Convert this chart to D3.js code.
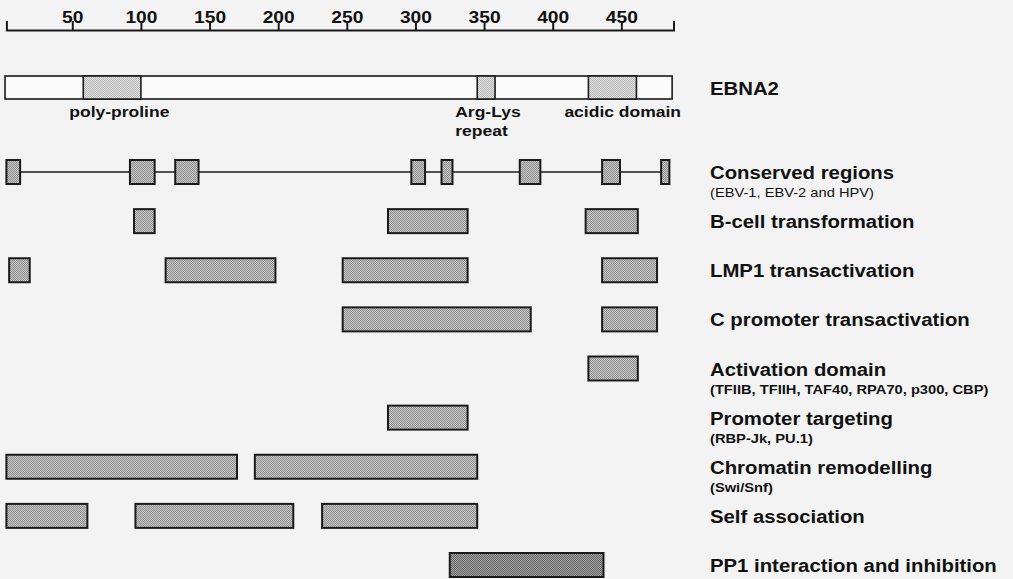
<!DOCTYPE html>
<html>
<head>
<meta charset="utf-8">
<script src="https://cdn.jsdelivr.net/npm/d3@7"></script>
<style>
body { margin: 0; background: #f3f3f3; }
svg { display: block; font-family: "Liberation Sans", Arial, sans-serif; }
.axis path, .axis line { stroke: #1a1a1a; stroke-width: 2; }
.axis text { font-family: "Liberation Sans", Arial, sans-serif; font-size: 17px; font-weight: bold; fill: #111; }
.seg { stroke: #1a1a1a; stroke-width: 2; }
.label { font-size: 18px; font-weight: bold; fill: #111; }
.note { font-size: 13px; fill: #111; }
.feature { font-size: 15.5px; font-weight: bold; fill: #111; }
</style>
</head>
<body>
<svg class="domains" width="1013" height="579"></svg>
<script>
// amino acid positions along EBNA2
var axisStart = 2, axisEnd = 488;
var tickValues = [50, 100, 150, 200, 250, 300, 350, 400, 450];

var ebna2Span = [1, 487];
var ebna2Features = [["poly-proline"], ["Arg-Lys", "repeat"], ["acidic domain"]];
var ebna2FeatureSpans = [[58, 100], [345, 358], [426, 461]];

var trackNames = ["Conserved regions", "B-cell transformation", "LMP1 transactivation",
    "C promoter transactivation", "Activation domain", "Promoter targeting",
    "Chromatin remodelling", "Self association", "PP1 interaction and inhibition"];
var trackNotes = ["(EBV-1, EBV-2 and HPV)", "", "", "", "(TFIIB, TFIIH, TAF40, RPA70, p300, CBP)",
    "(RBP-Jk, PU.1)", "(Swi/Snf)", "", ""];

var conservedRegions = [[2, 12], [92, 110], [125, 142], [297, 307], [319, 327], [376, 391], [436, 449], [479, 485]];
var bCellTransformation = [[95, 110], [280, 338], [424, 462]];
var lmp1Transactivation = [[4, 19], [118, 198], [247, 338], [436, 476]];
var cPromoterTransactivation = [[247, 384], [436, 476]];
var activationDomain = [[426, 462]];
var promoterTargeting = [[280, 338]];
var chromatinRemodelling = [[2, 170], [183, 345]];
var selfAssociation = [[2, 61], [96, 211], [232, 345]];
var pp1Interaction = [[325, 437]];

var trackSpans = [conservedRegions, bCellTransformation, lmp1Transactivation, cPromoterTransactivation,
    activationDomain, promoterTargeting, chromatinRemodelling, selfAssociation, pp1Interaction];

function drawDomainMap() {
    var svg = d3.select(".domains");
    var stretch = "scale(1.13,1)";   // the scan is a little wide
    var barH = 24, ebna2Y = 87.5, labelX = 710;
    var featureLabelDx = [-14, -22, -24];

    var x = d3.scaleLinear()
        .domain([axisStart, axisEnd])
        .range([6.4, 673.5]);

    var y = d3.scalePoint()
        .domain(trackNames)
        .range([172, 565]);

    // halftone fills
    var defs = svg.append("defs");
    function dotPattern(id, base, dot) {
        var p = defs.append("pattern")
            .attr("id", id)
            .attr("width", 2)
            .attr("height", 2)
            .attr("patternUnits", "userSpaceOnUse");
        p.append("rect").attr("width", 2).attr("height", 2).attr("fill", base);
        p.append("rect").attr("width", 1).attr("height", 1).attr("fill", dot);
        p.append("rect").attr("x", 1).attr("y", 1).attr("width", 1).attr("height", 1).attr("fill", dot);
    }
    dotPattern("dots", "#c4c4c4", "#919191");
    dotPattern("dotsLight", "#dddddd", "#bcbcbc");
    dotPattern("dotsDark", "#a0a0a0", "#666666");

    // axis
    var axis = svg.append("g")
        .attr("class", "axis")
        .attr("transform", "translate(0,30)")
        .call(d3.axisTop(x)
            .tickValues(tickValues)
            .tickSizeInner(9)
            .tickSizeOuter(9)
            .tickPadding(-2)
            .tickFormat(d3.format("d")));
    axis.selectAll("text").attr("transform", stretch);

    // EBNA2 protein
    svg.append("rect")
        .attr("x", x(ebna2Span[0]))
        .attr("y", ebna2Y - 11.5)
        .attr("width", x(ebna2Span[1]) - x(ebna2Span[0]))
        .attr("height", 23)
        .attr("fill", "#fbfbfb")
        .attr("stroke", "#1a1a1a")
        .attr("stroke-width", 1.6);

    svg.selectAll(".feat")
        .data(ebna2FeatureSpans)
        .enter().append("rect")
            .attr("class", "feat")
            .attr("x", function(d) { return x(d[0]); })
            .attr("y", ebna2Y - 11.5)
            .attr("width", function(d) { return x(d[1]) - x(d[0]); })
            .attr("height", 23)
            .attr("fill", "url(#dotsLight)")
            .attr("stroke", "#1a1a1a")
            .attr("stroke-width", 1.6);

    var featLabels = svg.selectAll(".feature")
        .data(ebna2Features)
        .enter().append("text")
            .attr("class", "feature")
            .attr("transform", function(d, i) {
                return "translate(" + (x(ebna2FeatureSpans[i][0]) + featureLabelDx[i]) + ",117) " + stretch;
            });
    featLabels.selectAll("tspan")
        .data(function(d) { return d; })
        .enter().append("tspan")
            .attr("x", 0)
            .attr("dy", function(d, i) { return i ? 19 : 0; })
            .text(function(d) { return d; });

    // line joining the conserved regions
    svg.append("line")
        .attr("x1", x(conservedRegions[0][1]))
        .attr("x2", x(conservedRegions[conservedRegions.length - 1][0]))
        .attr("y1", y(trackNames[0]))
        .attr("y2", y(trackNames[0]))
        .attr("stroke", "#1a1a1a")
        .attr("stroke-width", 1.5);

    // tracks
    trackSpans.forEach(function(spans, i) {
        var name = trackNames[i];
        svg.append("g").selectAll("rect")
            .data(spans)
            .enter().append("rect")
                .attr("class", "seg")
                .attr("x", function(d) { return x(d[0]); })
                .attr("y", y(name) - barH / 2)
                .attr("width", function(d) { return x(d[1]) - x(d[0]); })
                .attr("height", barH)
                .attr("fill", i === trackNames.length - 1 ? "url(#dotsDark)" : "url(#dots)");
    });

    // labels on the right
    svg.append("text")
        .attr("class", "label")
        .attr("transform", "translate(" + labelX + "," + (ebna2Y + 7) + ") " + stretch)
        .text("EBNA2");

    svg.selectAll(".tracklabel")
        .data(trackNames)
        .enter().append("text")
            .attr("class", "label tracklabel")
            .attr("transform", function(d) { return "translate(" + labelX + "," + (y(d) + 7) + ") " + stretch; })
            .text(function(d) { return d; });

    svg.selectAll(".note")
        .data(trackNotes)
        .enter().append("text")
            .attr("class", "note")
            .style("font-weight", function(d, i) { return i === 0 ? "normal" : "bold"; })
            .attr("transform", function(d, i) {
                return "translate(" + labelX + "," + (y(trackNames[i]) + 25) + ") " + stretch;
            })
            .text(function(d) { return d; });
}

drawDomainMap();
</script>
</body>
</html>
